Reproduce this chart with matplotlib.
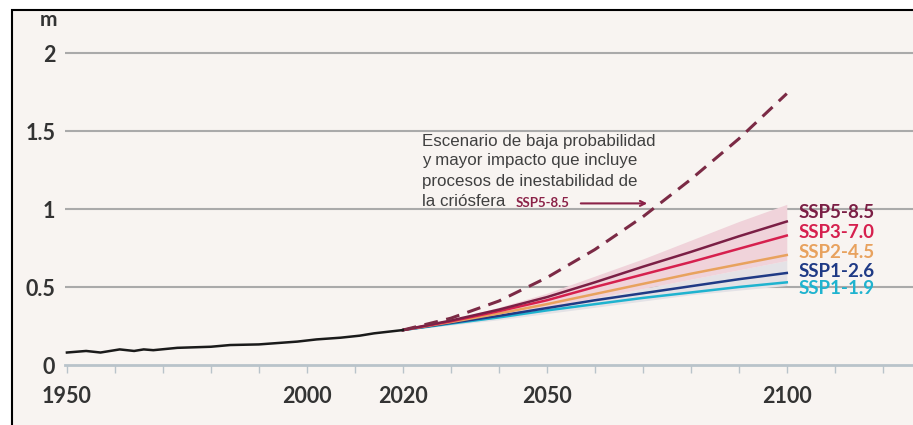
import numpy as np
import matplotlib.pyplot as plt
from matplotlib.patches import Rectangle, FancyArrowPatch
from matplotlib.ticker import FixedLocator

# observed sea level (m)
obs_years = [1950, 1954, 1957, 1961, 1964, 1966, 1968, 1973, 1980, 1984, 1990, 1998, 2002, 2007, 2011, 2014, 2020]
obs_vals = [0.08, 0.09, 0.08, 0.10, 0.09, 0.10, 0.095, 0.11, 0.117, 0.128, 0.132, 0.15, 0.164, 0.175, 0.188, 0.203, 0.224]

# projections
proj_years = [2020, 2030, 2040, 2050, 2060, 2070, 2080, 2090, 2100]
ssp585 = [0.224, 0.285, 0.355, 0.435, 0.53, 0.63, 0.725, 0.825, 0.92]
ssp370 = [0.224, 0.28, 0.345, 0.415, 0.50, 0.58, 0.66, 0.745, 0.83]
ssp245 = [0.224, 0.275, 0.33, 0.39, 0.455, 0.52, 0.585, 0.645, 0.705]
ssp126 = [0.224, 0.27, 0.315, 0.365, 0.415, 0.46, 0.505, 0.55, 0.59]
ssp119 = [0.224, 0.265, 0.305, 0.35, 0.39, 0.43, 0.465, 0.50, 0.53]
band_hi = [0.224, 0.29, 0.37, 0.46, 0.57, 0.68, 0.80, 0.92, 1.03]
band_lo = [0.224, 0.26, 0.31, 0.37, 0.43, 0.49, 0.55, 0.61, 0.67]
grey_lo = [0.224, 0.255, 0.29, 0.33, 0.37, 0.41, 0.45, 0.48, 0.51]
dashed = [0.224, 0.30, 0.41, 0.56, 0.74, 0.95, 1.19, 1.45, 1.74]

scen_names = ['SSP5-8.5', 'SSP3-7.0', 'SSP2-4.5', 'SSP1-2.6', 'SSP1-1.9']
scen_vals = [ssp585, ssp370, ssp245, ssp126, ssp119]
scen_cols = ['#7b1f45', '#d6204e', '#e8a25e', '#1f3a85', '#1fb3cf']
label_y = [0.98, 0.85, 0.722, 0.60, 0.49]

note_lines = ['Escenario de baja probabilidad', 'y mayor impacto que incluye',
              'procesos de inestabilidad de', 'la criósfera']
note_y = [1.436, 1.308, 1.179, 1.048]

x_labels = [1950, 2000, 2020, 2050, 2100]
y_ticks = [0, 0.5, 1, 1.5, 2]

bg = '#f8f4f1'
txtcol = '#333333'

fig = plt.figure(figsize=(9.13, 4.25), dpi=100, facecolor='white')
# panel frame
fig.patches.append(Rectangle((12/913, -0.01), 1.0, (415/425) + 0.01, transform=fig.transFigure,
                             facecolor=bg, edgecolor='black', linewidth=1.5, zorder=-10))

ax = fig.add_axes([65/913, 60/425, 848/913, 355/425])
ax.set_facecolor('none')
ax.set_xlim(1949.6, 2126.3)
ax.set_ylim(0, 2.276)

for y in y_ticks[1:]:
    ax.axhline(y, color='#aaaaaa', lw=1.5, zorder=1)

ax.fill_between(proj_years, grey_lo, band_lo, color='#e4e2e6', lw=0, zorder=2)
ax.fill_between(proj_years, band_lo, band_hi, color='#f0d3da', lw=0, zorder=2)

ax.plot(obs_years, obs_vals, color='#1a1a1a', lw=1.8, zorder=5)
for vals, c in zip(scen_vals[::-1], scen_cols[::-1]):
    ax.plot(proj_years, vals, color=c, lw=1.8, zorder=4)
ax.plot(proj_years, dashed, color='#7b2a45', lw=2.2, ls=(0, (4.5, 2.8)), zorder=4)

for name, c, y in zip(scen_names, scen_cols, label_y):
    ax.text(2102.5, y, name, color=c, fontsize=13.5, fontweight='bold', family='Lato',
            va='center', ha='left')

for line_txt, y in zip(note_lines, note_y):
    ax.text(2023.9, y, line_txt, fontsize=12.2, color='#404040', family='Liberation Sans',
            va='center', ha='left')
ax.text(2043.4, 1.04, 'SSP5-8.5', fontsize=9.5, color='#8b2248', fontweight='bold', family='Lato',
        va='center', ha='left')
ax.add_patch(FancyArrowPatch((2056.5, 1.036), (2071.5, 1.036), arrowstyle='->', mutation_scale=9,
                             color='#8b2248', lw=1.5, zorder=6))

# axes styling
for s in ['top', 'right', 'left']:
    ax.spines[s].set_visible(False)
ax.spines['bottom'].set_color('#b9c3ca')
ax.spines['bottom'].set_linewidth(2)
ax.xaxis.set_major_locator(FixedLocator(x_labels))
ax.xaxis.set_minor_locator(FixedLocator(list(range(1950, 2130, 10))))
ax.set_xticklabels([str(v) for v in x_labels])
ax.tick_params(axis='x', which='both', direction='out', length=6, color='#b9c3ca', width=1, pad=9,
               labelsize=15.5, labelcolor=txtcol)
ax.set_yticks(y_ticks)
ax.set_yticklabels(['0', '0.5', '1', '1.5', '2'])
ax.tick_params(axis='y', length=0, pad=7, labelsize=15.5, labelcolor=txtcol)
for lab in ax.get_xticklabels() + ax.get_yticklabels():
    lab.set_fontweight('bold')
    lab.set_family('Lato')

fig.text(48/913, 1 - 20/425, 'm', fontsize=15, fontweight='bold', family='Lato', color=txtcol,
         ha='center', va='center')

fig.savefig('out.png', dpi=100, facecolor='white')
